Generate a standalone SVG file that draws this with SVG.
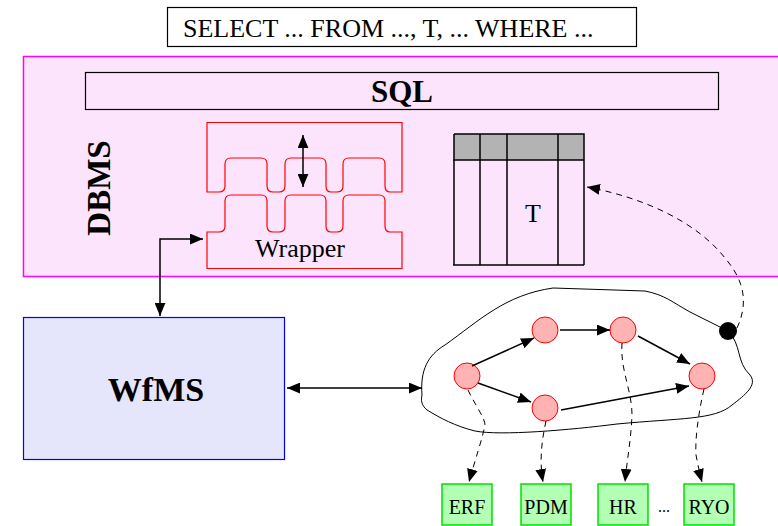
<svg xmlns="http://www.w3.org/2000/svg" width="778" height="526" viewBox="0 0 778 526">
<defs>
<marker id="ah" viewBox="0 0 12 10" refX="12" refY="5" markerWidth="13" markerHeight="11" markerUnits="userSpaceOnUse" orient="auto-start-reverse">
<path d="M0,0 L12,5 L0,10 Z" fill="#000"/>
</marker>
<style>
.t{font-family:"Liberation Serif","Times New Roman",serif;fill:#000}
.ln{stroke:#000;stroke-width:1.5;fill:none}
.dl{stroke:#000;stroke-width:1;fill:none;stroke-dasharray:6 5}
.act{fill:#FFB3B3;stroke:#FF0000;stroke-width:1}
.app{fill:#B3FFB3;stroke:#00E000;stroke-width:1.5}
.wr{fill:none;stroke:#FF0000;stroke-width:1.2}
</style>
</defs>
<rect width="778" height="526" fill="#fff"/>

<g id="query">
<rect x="167.5" y="7.5" width="469" height="39" fill="#fff" stroke="#000" stroke-width="1.2"/>
<text class="t" x="183" y="37" font-size="26">SELECT ... FROM ..., T, ... WHERE ...</text>
</g>

<g id="dbms">
<rect x="23.5" y="56.5" width="760" height="220" fill="#FCE4FC" stroke="#FF00FF" stroke-width="1.5"/>
<text class="t" font-size="33" font-weight="bold" text-anchor="middle" transform="translate(110,188) rotate(-90)">DBMS</text>
</g>

<g id="sql">
<rect x="85.5" y="72.5" width="633" height="37" fill="#FCE4FC" stroke="#000" stroke-width="1.2"/>
<text class="t" x="402" y="102" font-size="31" font-weight="bold" text-anchor="middle">SQL</text>
</g>

<g id="wrapper">
<path class="wr" d="M207,192 L207,122.5 L402,122.5 L402,192 L390,192 Q385,192 385,186 L385,164 Q385,158 379,158 L349,158 Q343,158 343,164 L343,186 Q343,192 337,192 L331,192 Q326,192 326,186 L326,164 Q326,158 320,158 L291,158 Q285,158 285,164 L285,186 Q285,192 279,192 L273,192 Q267,192 267,186 L267,164 Q267,158 261,158 L231,158 Q225,158 225,164 L225,186 Q225,192 219,192 Z"/>
<path class="wr" d="M207,232 L219,232 Q225,232 225,226 L225,201 Q225,195 231,195 L261,195 Q267,195 267,201 L267,226 Q267,232 273,232 L279,232 Q285,232 285,226 L285,201 Q285,195 291,195 L320,195 Q326,195 326,201 L326,226 Q326,232 331,232 L337,232 Q343,232 343,226 L343,201 Q343,195 349,195 L379,195 Q385,195 385,201 L385,226 Q385,232 390,232 L402,232 L402,268.5 L207,268.5 Z"/>
<line class="ln" x1="303" y1="135" x2="303" y2="187" marker-start="url(#ah)" marker-end="url(#ah)"/>
<text class="t" x="300" y="257" font-size="26" text-anchor="middle">Wrapper</text>
</g>

<g id="table-t">
<rect x="454" y="134" width="130" height="26" fill="#B3B3B3"/>
<path class="ln" stroke-width="1.2" d="M454,134 H584 V265 M454,134 V265 M453,160 H584 M453,265 H584 M480,134 V265 M507,134 V265 M558,134 V265"/>
<text class="t" x="533" y="222" font-size="26" text-anchor="middle">T</text>
</g>

<g id="wfms">
<rect x="23.5" y="317.5" width="261" height="142" fill="#E5E5FC" stroke="#0000FF" stroke-width="1.2"/>
<text class="t" x="156" y="401" font-size="34" font-weight="bold" text-anchor="middle">WfMS</text>
</g>

<g id="workflow">
<path d="M422,395 C420,370 428,355 445,345 C480,320 505,295 553,288 L645,291 C665,295 672,302 690,312 L728,331 C742,345 736,362 750,375 C758,385 745,395 732,405 C715,420 680,418 617,424 C570,430 500,436 475,431 C455,426 440,418 427,410 C421,405 421,400 422,395 Z" fill="none" stroke="#000" stroke-width="1"/>
<circle cx="728" cy="331" r="9" fill="#000"/>
</g>

<g id="act-a"><circle class="act" cx="467" cy="376" r="13"/></g>
<g id="act-b"><circle class="act" cx="545" cy="330" r="13"/></g>
<g id="act-c"><circle class="act" cx="623" cy="330" r="13"/></g>
<g id="act-d"><circle class="act" cx="702" cy="376" r="13"/></g>
<g id="act-e"><circle class="act" cx="545" cy="408" r="13"/></g>

<g id="app-erf"><rect class="app" x="442" y="484" width="50" height="41"/><text class="t" x="467" y="514" font-size="20" text-anchor="middle">ERF</text></g>
<g id="app-pdm"><rect class="app" x="521" y="484" width="50" height="41"/><text class="t" x="546" y="514" font-size="20" text-anchor="middle">PDM</text></g>
<g id="app-hr"><rect class="app" x="598" y="484" width="50" height="41"/><text class="t" x="623" y="514" font-size="20" text-anchor="middle">HR</text></g>
<text class="t" x="664" y="512" font-size="16" text-anchor="middle">...</text>
<g id="app-ryo"><rect class="app" x="684" y="484" width="50" height="41"/><text class="t" x="709" y="514" font-size="20" text-anchor="middle">RYO</text></g>

<g id="connectors">
<path class="ln" d="M160,316 V239 H203" marker-start="url(#ah)" marker-end="url(#ah)"/>
<line class="ln" x1="287" y1="388" x2="422" y2="388" marker-start="url(#ah)" marker-end="url(#ah)"/>
<line class="ln" stroke-width="1.2" x1="472" y1="366" x2="534" y2="338" marker-end="url(#ah)"/>
<line class="ln" stroke-width="1.2" x1="560" y1="330" x2="610" y2="330" marker-end="url(#ah)"/>
<line class="ln" stroke-width="1.2" x1="638" y1="336" x2="690" y2="364" marker-end="url(#ah)"/>
<line class="ln" stroke-width="1.2" x1="478" y1="383" x2="531" y2="402" marker-end="url(#ah)"/>
<line class="ln" stroke-width="1.2" x1="561" y1="410" x2="689" y2="386" marker-end="url(#ah)"/>
<path class="dl" d="M737,328 C750,300 742,278 725,258 C695,220 640,197 587,187" marker-end="url(#ah)"/>
<path class="dl" d="M468,390 C475,405 485,418 485,425 C482,440 475,460 469,482" marker-end="url(#ah)"/>
<path class="dl" d="M546,421 C542,440 539,460 543,482" marker-end="url(#ah)"/>
<path class="dl" d="M622,343 C620,370 632,390 632,415 C631,440 627,460 625,482" marker-end="url(#ah)"/>
<path class="dl" d="M704,389 C698,415 695,440 696,455 C698,465 700,475 702,482" marker-end="url(#ah)"/>
</g>
</svg>
